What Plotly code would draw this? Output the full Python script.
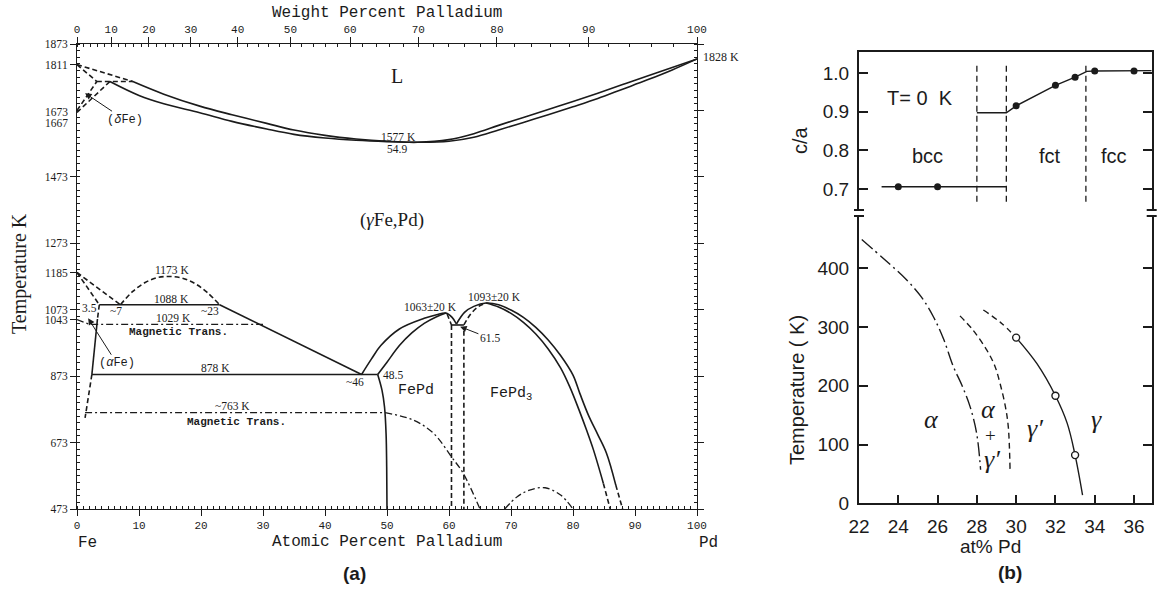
import plotly.graph_objects as go

W, H = 1158, 593

# ---------------- (a) Fe-Pd phase diagram: atomic % Pd vs temperature (K) ----------------
liquidus_x = [9, 14, 19.8, 25, 30.6, 35, 40, 45, 50, 54.9, 60, 64, 68, 72, 76, 80, 84, 88, 92, 96, 100]
liquidus_T = [1760, 1722, 1686, 1660, 1634, 1614, 1598, 1587, 1580, 1577, 1585, 1603, 1628, 1652, 1676,
              1700, 1725, 1751, 1777, 1802, 1828]
solidus_x = [5.3, 10, 14, 19.8, 25, 30.6, 35, 40, 45, 50, 54.9, 60, 64, 68, 72, 76, 80, 84, 88, 92, 96, 100]
solidus_T = [1760, 1718, 1693, 1666, 1640, 1617, 1601, 1590, 1583, 1579, 1577, 1580, 1592, 1614, 1637,
             1660, 1684, 1709, 1737, 1765, 1795, 1828]

# delta-Fe corner (dashed)
delta_liq_x, delta_liq_T = [0, 4, 9], [1811, 1789, 1760]
delta_sol_x, delta_sol_T = [0, 3.2], [1811, 1760]
peritectic_x, peritectic_T = [3.2, 9], [1760, 1760]
delta_gam1_x, delta_gam1_T = [0, 3.2], [1673, 1760]
delta_gam2_x, delta_gam2_T = [0, 5.3], [1667, 1760]

# alpha / gamma region near Fe
gam_alpha1_x, gam_alpha1_T = [0, 3.6], [1185, 1088]
gam_alpha2_x, gam_alpha2_T = [0, 7], [1185, 1088]
misc_dome_x = [7, 9, 11, 13, 15, 17, 19, 21, 23]
misc_dome_T = [1088, 1128, 1155, 1170, 1173, 1168, 1152, 1125, 1088]
eutectoid_x, eutectoid_T = [3.6, 23], [1088, 1088]
gamma_bound_x, gamma_bound_T = [23, 45.9], [1088, 878]
alpha_top_x, alpha_top_T = [3.6, 3.3], [1088, 1045]
alpha_mid_x, alpha_mid_T = [3.3, 2.4], [1045, 878]
alpha_low_x, alpha_low_T = [2.4, 1.8, 1.3], [878, 810, 747]
eut878_x, eut878_T = [2.4, 48.5], [878, 878]

# FePd ordered phase
fepd_outer_x = [45.9, 47.5, 49, 52, 56, 58, 59.5, 60.5, 61.2]
fepd_outer_T = [878, 925, 965, 1015, 1047, 1058, 1063, 1050, 1030]
fepd_inner_x = [48.5, 50, 52, 54, 56, 58, 59.5]
fepd_inner_T = [878, 915, 965, 1003, 1032, 1052, 1063]
fepd_left_x = [48.5, 49.2, 49.6, 49.85, 49.95, 50]
fepd_left_T = [878, 830, 780, 700, 600, 473]
fepd_tip_x, fepd_tip_T = [59.7, 60.4], [1060, 1027]
tie615_x, tie615_T = [60.4, 62.4], [1027, 1027]
vert1_x, vert1_T = [60.4, 60.4], [1027, 473]
vert2_x, vert2_T = [62.4, 62.4], [1010, 473]

# FePd3 ordered phase
fepd3_outer_x = [61.2, 62.5, 64, 66, 68, 70, 72, 74, 76, 78, 80, 81.1, 82.5, 84, 85.4, 86.9]
fepd3_outer_T = [1030, 1065, 1083, 1093, 1088, 1072, 1050, 1020, 982, 935, 876, 821, 755, 697, 641, 545]
fepd3_outer_tail_x, fepd3_outer_tail_T = [86.9, 88], [545, 473]
fepd3_inner_x = [66, 68, 70, 72, 74, 76, 78, 79.5, 81, 82.2, 83.3, 84.9]
fepd3_inner_T = [1093, 1081, 1062, 1035, 1000, 955, 898, 840, 770, 710, 651, 550]
fepd3_inner_tail_x, fepd3_inner_tail_T = [84.9, 86], [550, 473]
fepd3_left_x, fepd3_left_T = [62.4, 63.5, 64.8, 66], [1027, 1060, 1083, 1093]

# magnetic transitions
mag1029_x, mag1029_T = [0, 2, 30], [1043, 1029, 1029]
mag763_x, mag763_T = [1.3, 49.7], [763, 763]
mag_curve_x = [49.7, 54.2, 57.5, 60.4, 62.3, 65.0]
mag_curve_T = [763, 741, 701, 630, 580, 473]
mag_dome_x = [69, 71, 73, 75.5, 78, 80]
mag_dome_T = [473, 510, 530, 537, 515, 473]

temp_ticks = [473, 673, 873, 1043, 1073, 1185, 1273, 1473, 1811, 1873]
at_ticks = list(range(0, 101, 10))
wt_ticks = list(range(0, 101, 10))

# ---------------- (b) c/a at T = 0 K and low-temperature diagram ----------------
ca_pts_x = [24, 26, 30, 32, 33, 34, 36]
ca_pts_y = [0.706, 0.706, 0.915, 0.968, 0.989, 1.005, 1.005]
ca_bcc_x, ca_bcc_y = [23.15, 29.5], [0.706, 0.706]
ca_fct_x = [28.0, 29.5, 30, 32, 33, 33.6, 34, 36, 36.9]
ca_fct_y = [0.897, 0.897, 0.915, 0.968, 0.989, 1.004, 1.005, 1.005, 1.006]
ca_bounds = [28.0, 29.5, 33.55]
ca_bound_y = [0.667, 1.028]
ca_ticks = [0.7, 0.8, 0.9, 1.0]

alpha_line_x = [22.14, 23.3, 24.43, 25.2, 25.78, 26.3, 26.8, 27.25, 27.65, 27.99, 28.19]
alpha_line_T = [449, 415, 380, 350, 318, 280, 233, 200, 165, 119, 57]
gamma_p_line_x = [27.14, 27.8, 28.5, 28.9, 29.18, 29.45, 29.6, 29.69]
gamma_p_line_T = [319, 295, 261, 235, 204, 165, 130, 57]
gamma_dash_x = [28.33, 29.2, 30.0]
gamma_dash_T = [329, 308, 282]
gamma_line_x = [30.0, 31.05, 32.0, 32.6, 33.0, 33.38]
gamma_line_T = [282, 238, 183, 136, 82, 14]
gamma_pts_x = [30, 32, 33]
gamma_pts_T = [282, 183, 82]
pd_ticks = list(range(22, 37, 2))
temp_b_ticks = [0, 100, 200, 300, 400]

INK = "#1b1b1b"
SERIF = "Liberation Serif, Times New Roman, serif"
MONO = "Liberation Mono, Courier New, monospace"
SANS = "Liberation Sans, Arial, sans-serif"


def at_from_wt(w):
    """Convert weight % Pd to atomic % Pd."""
    a = w / 106.42
    b = (100 - w) / 55.845
    return 100 * a / (a + b)


fig = go.Figure()


def line(x, y, dash="solid", xa="x", ya="y", width=1.6, shape="linear"):
    fig.add_trace(go.Scatter(x=x, y=y, mode="lines", xaxis=xa, yaxis=ya,
                             line=dict(color=INK, width=width, dash=dash, shape=shape),
                             hoverinfo="skip", showlegend=False))


DASH = "5px,3px"
DASHDOT = "7px,3px,2px,3px"

# liquid/solid
line(liquidus_x, liquidus_T, shape="spline")
line(solidus_x, solidus_T, shape="spline")
for xs, ys in [(delta_liq_x, delta_liq_T), (delta_sol_x, delta_sol_T), (peritectic_x, peritectic_T),
               (delta_gam1_x, delta_gam1_T), (delta_gam2_x, delta_gam2_T)]:
    line(xs, ys, dash=DASH)

# low-temperature Fe side
line(gam_alpha1_x, gam_alpha1_T, dash=DASH)
line(gam_alpha2_x, gam_alpha2_T, dash=DASH)
line(misc_dome_x, misc_dome_T, dash=DASH, shape="spline")
line(eutectoid_x, eutectoid_T)
line(gamma_bound_x, gamma_bound_T)
line(alpha_top_x, alpha_top_T, dash=DASH)
line(alpha_mid_x, alpha_mid_T)
line(alpha_low_x, alpha_low_T, dash=DASH)
line(eut878_x, eut878_T)

# FePd
line(fepd_outer_x, fepd_outer_T, shape="spline")
line(fepd_inner_x, fepd_inner_T, shape="spline")
line(fepd_left_x, fepd_left_T, shape="spline")
line(fepd_tip_x, fepd_tip_T, dash=DASH)
line(tie615_x, tie615_T)
line(vert1_x, vert1_T, dash=DASH)
line(vert2_x, vert2_T, dash=DASH)

# FePd3
line(fepd3_outer_x, fepd3_outer_T, shape="spline")
line(fepd3_outer_tail_x, fepd3_outer_tail_T, dash=DASH)
line(fepd3_inner_x, fepd3_inner_T, shape="spline")
line(fepd3_inner_tail_x, fepd3_inner_tail_T, dash=DASH)
line(fepd3_left_x, fepd3_left_T, dash=DASH, shape="spline")

# magnetic transitions
line(mag1029_x, mag1029_T, dash=DASHDOT, width=1.3)
line(mag763_x, mag763_T, dash=DASHDOT, width=1.3)
line(mag_curve_x, mag_curve_T, dash=DASHDOT, width=1.3, shape="spline")
line(mag_dome_x, mag_dome_T, dash=DASHDOT, width=1.3, shape="spline")

# empty traces so the secondary axes of panel (a) are drawn
fig.add_trace(go.Scatter(x=[0, 100], y=[None, None], xaxis="x2", yaxis="y", mode="lines",
                         showlegend=False, hoverinfo="skip"))
fig.add_trace(go.Scatter(x=[0, 100], y=[None, None], xaxis="x", yaxis="y2", mode="lines",
                         showlegend=False, hoverinfo="skip"))

# ---- panel (b) top: c/a
for xb in ca_bounds:
    line([xb, xb], ca_bound_y, dash="6px,4px", xa="x3", ya="y3", width=1.3)
line(ca_bcc_x, ca_bcc_y, xa="x3", ya="y3", width=1.4)
line(ca_fct_x, ca_fct_y, xa="x3", ya="y3", width=1.4)
fig.add_trace(go.Scatter(x=ca_pts_x, y=ca_pts_y, xaxis="x3", yaxis="y3", mode="markers",
                         marker=dict(color=INK, size=7), showlegend=False, hoverinfo="skip"))

# ---- panel (b) bottom: transition temperatures
line(alpha_line_x, alpha_line_T, dash="14px,4px,2px,4px", xa="x4", ya="y4", width=1.4, shape="spline")
line(gamma_p_line_x, gamma_p_line_T, dash="6px,4px", xa="x4", ya="y4", width=1.4, shape="spline")
line(gamma_dash_x, gamma_dash_T, dash="6px,4px", xa="x4", ya="y4", width=1.4, shape="spline")
line(gamma_line_x, gamma_line_T, xa="x4", ya="y4", width=1.4, shape="spline")
fig.add_trace(go.Scatter(x=gamma_pts_x, y=gamma_pts_T, xaxis="x4", yaxis="y4", mode="markers",
                         marker=dict(color="white", size=7, line=dict(color=INK, width=1.4)),
                         showlegend=False, hoverinfo="skip"))

# ---------------- axes ----------------
ax_a = [77 / W, 697 / W]
ay_a = [1 - 509 / H, 1 - 44 / H]
ax_b = [859 / W, 1151.7 / W]
ay_b_top = [1 - 210 / H, 1 - 52 / H]
ay_b_bot = [1 - 503.3 / H, 1 - 216 / H]

common_a = dict(showgrid=False, zeroline=False, showline=True, linecolor=INK, linewidth=1,
                tickcolor=INK, ticklen=6, tickwidth=1, automargin=False)
common_b = dict(showgrid=False, zeroline=False, showline=True, linecolor=INK, linewidth=2,
                tickcolor=INK, tickwidth=2, automargin=False)

fig.update_layout(
    width=W, height=H, margin=dict(l=0, r=0, t=0, b=0, autoexpand=False),
    plot_bgcolor="white", paper_bgcolor="white", showlegend=False,
    xaxis=dict(domain=ax_a, range=[0, 100], anchor="y", tickvals=at_ticks, ticks="outside",
               tickfont=dict(family=MONO, size=11, color=INK),
               minor=dict(dtick=1, tick0=0, ticks="inside", ticklen=3, tickcolor=INK), **common_a),
    xaxis2=dict(overlaying="x", side="top", anchor="y", range=[0, 100],
                tickvals=[at_from_wt(w) for w in wt_ticks], ticktext=[str(w) for w in wt_ticks],
                ticks="outside", tickfont=dict(family=MONO, size=11, color=INK),
                minor=dict(tickmode="array", tickvals=[at_from_wt(w) for w in range(0, 101, 2)],
                           ticks="inside", ticklen=3, tickcolor=INK), **common_a),
    yaxis=dict(domain=ay_a, range=[473, 1873], anchor="x", tickvals=temp_ticks,
               ticks="outside", tickfont=dict(family=SERIF, size=11.5, color=INK),
               minor=dict(dtick=20, tick0=473, ticks="inside", ticklen=3, tickcolor=INK), **common_a),
    yaxis2=dict(overlaying="y", side="right", anchor="x", range=[473, 1873],
                tickvals=list(range(473, 1874, 200)), showticklabels=False, ticks="outside",
                minor=dict(dtick=20, tick0=473, ticks="inside", ticklen=3, tickcolor=INK), **common_a),
    xaxis3=dict(domain=ax_b, range=[22, 36.9], anchor="y3", side="top", showticklabels=False,
                ticks="", **common_b),
    yaxis3=dict(domain=ay_b_top, range=[0.646, 1.054], anchor="x3", tickvals=ca_ticks,
                ticktext=["0.7", "0.8", "0.9", "1.0"], ticks="inside", ticklen=9,
                mirror="ticks", ticklabelstandoff=4,
                tickfont=dict(family=SANS, size=19, color=INK), **common_b),
    xaxis4=dict(domain=ax_b, range=[22, 36.9], anchor="y4", tickvals=pd_ticks, ticks="inside",
                ticklen=8, ticklabelstandoff=5,
                tickfont=dict(family=SANS, size=19, color=INK), **common_b),
    yaxis4=dict(domain=ay_b_bot, range=[0, 489], anchor="x4", tickvals=temp_b_ticks, ticks="inside",
                ticklen=9, mirror="ticks", ticklabelstandoff=4,
                tickfont=dict(family=SANS, size=19, color=INK), **common_b),
)

# axis breaks between the two panel (b) plots
for xp in (ax_b[0], ax_b[1]):
    for yp in (ay_b_top[0], ay_b_bot[1]):
        fig.add_shape(type="line", xref="paper", yref="paper", x0=xp - 5 / W, x1=xp + 5 / W,
                      y0=yp, y1=yp, line=dict(color=INK, width=2))


# ---------------- text ----------------
def txt(x, y, s, size=12, family=SERIF, xref="x", yref="y", xanchor="center", yanchor="middle", **kw):
    fig.add_annotation(x=x, y=y, xref=xref, yref=yref, text=s, showarrow=False,
                       xanchor=xanchor, yanchor=yanchor,
                       font=dict(family=family, size=size, color=INK), **kw)


def ptxt(px, py, s, size, family, **kw):
    txt(px / W, 1 - py / H, s, size=size, family=family, xref="paper", yref="paper", **kw)


ptxt(387, 13, "Weight Percent Palladium", 16, MONO)
ptxt(387, 542, "Atomic Percent Palladium", 16, MONO)
ptxt(87, 543, "Fe", 16, MONO)
ptxt(708, 543, "Pd", 16, MONO)
ptxt(19, 274, "Temperature K", 20, SERIF, textangle=-90)
ptxt(354, 573, "<b>(a)</b>", 19, SANS)
ptxt(1010, 572, "<b>(b)</b>", 19, SANS)
# the two close delta-loop temperatures are labelled one above the other
ptxt(70, 112, "1673", 11.5, SERIF, xanchor="right")
ptxt(70, 123, "1667", 11.5, SERIF, xanchor="right")

txt(100, 1833, "1828 K", xanchor="left", xshift=4)
txt(51.6, 1776, "L", size=20)
txt(51.9, 1594, "1577 K", size=11.5)
txt(51.6, 1558, "54.9", size=11.5)
txt(50.8, 1343, "(<i>γ</i>Fe,Pd)", size=19)
txt(15.3, 1192, "1173 K", size=11.5)
txt(15.3, 1106, "1088 K", size=11.5)
txt(2.0, 1079, "3.5", size=11.5)
txt(6.3, 1068, "~7", size=11.5)
txt(21.5, 1068, "~23", size=11.5)
txt(15.5, 1047, "1029 K", size=11.5)
txt(16.3, 1006, "<b>Magnetic Trans.</b>", size=11, family=MONO)
txt(22.3, 897, "878 K", size=11.5)
txt(44.8, 856, "~46", size=11.5)
txt(50.9, 877, "48.5", size=11.5)
txt(54.6, 830, "FePd", size=15, family=MONO)
txt(70.0, 820, "FePd<sub>3</sub>", size=15, family=MONO)
txt(57.0, 1080, "1063±20 K", size=11.5)
txt(67.4, 1111, "1093±20 K", size=11.5)
txt(25.0, 783, "~763 K", size=11.5)
txt(25.8, 735, "<b>Magnetic Trans.</b>", size=11, family=MONO)

for label, (lx, ly), (hx, hy), fam, sz in [
    ("(<i>δ</i>Fe)", (7.7, 1645), (1.3, 1725), MONO, 12),
    ("(<i>α</i>Fe)", (6.4, 912), (1.8, 1047), MONO, 12),
    ("61.5", (66.6, 987), (61.8, 1022), SERIF, 11.5),
]:
    fig.add_annotation(x=hx, y=hy, ax=lx, ay=ly, xref="x", yref="y", axref="x", ayref="y",
                       text=label, showarrow=True, arrowhead=2, arrowsize=1.3, arrowwidth=1,
                       arrowcolor=INK, font=dict(family=fam, size=sz, color=INK))

# panel (b) titles and labels
ptxt(800, 140, "c/a", 20, SANS, textangle=-90)
ptxt(797, 390, "Temperature ( K)", 20, SANS, textangle=-90)
ptxt(990, 546, "at% Pd", 19, SANS)

txt(25.1, 0.934, "T= 0  K", size=20, family=SANS, xref="x3", yref="y3")
txt(25.5, 0.786, "bcc", size=20, family=SANS, xref="x3", yref="y3")
txt(31.7, 0.786, "fct", size=20, family=SANS, xref="x3", yref="y3")
txt(35.0, 0.786, "fcc", size=20, family=SANS, xref="x3", yref="y3")

GREEK = 26
txt(25.7, 143, "<i>α</i>", size=GREEK, xref="x4", yref="y4")
txt(28.6, 160, "<i>α</i>", size=GREEK, xref="x4", yref="y4")
txt(28.67, 115, "+", size=19, xref="x4", yref="y4")
txt(28.75, 74, "<i>γ′</i>", size=GREEK, xref="x4", yref="y4")
txt(30.95, 128, "<i>γ′</i>", size=GREEK, xref="x4", yref="y4")
txt(34.1, 143, "<i>γ</i>", size=GREEK, xref="x4", yref="y4")

fig.write_html("out.html")
